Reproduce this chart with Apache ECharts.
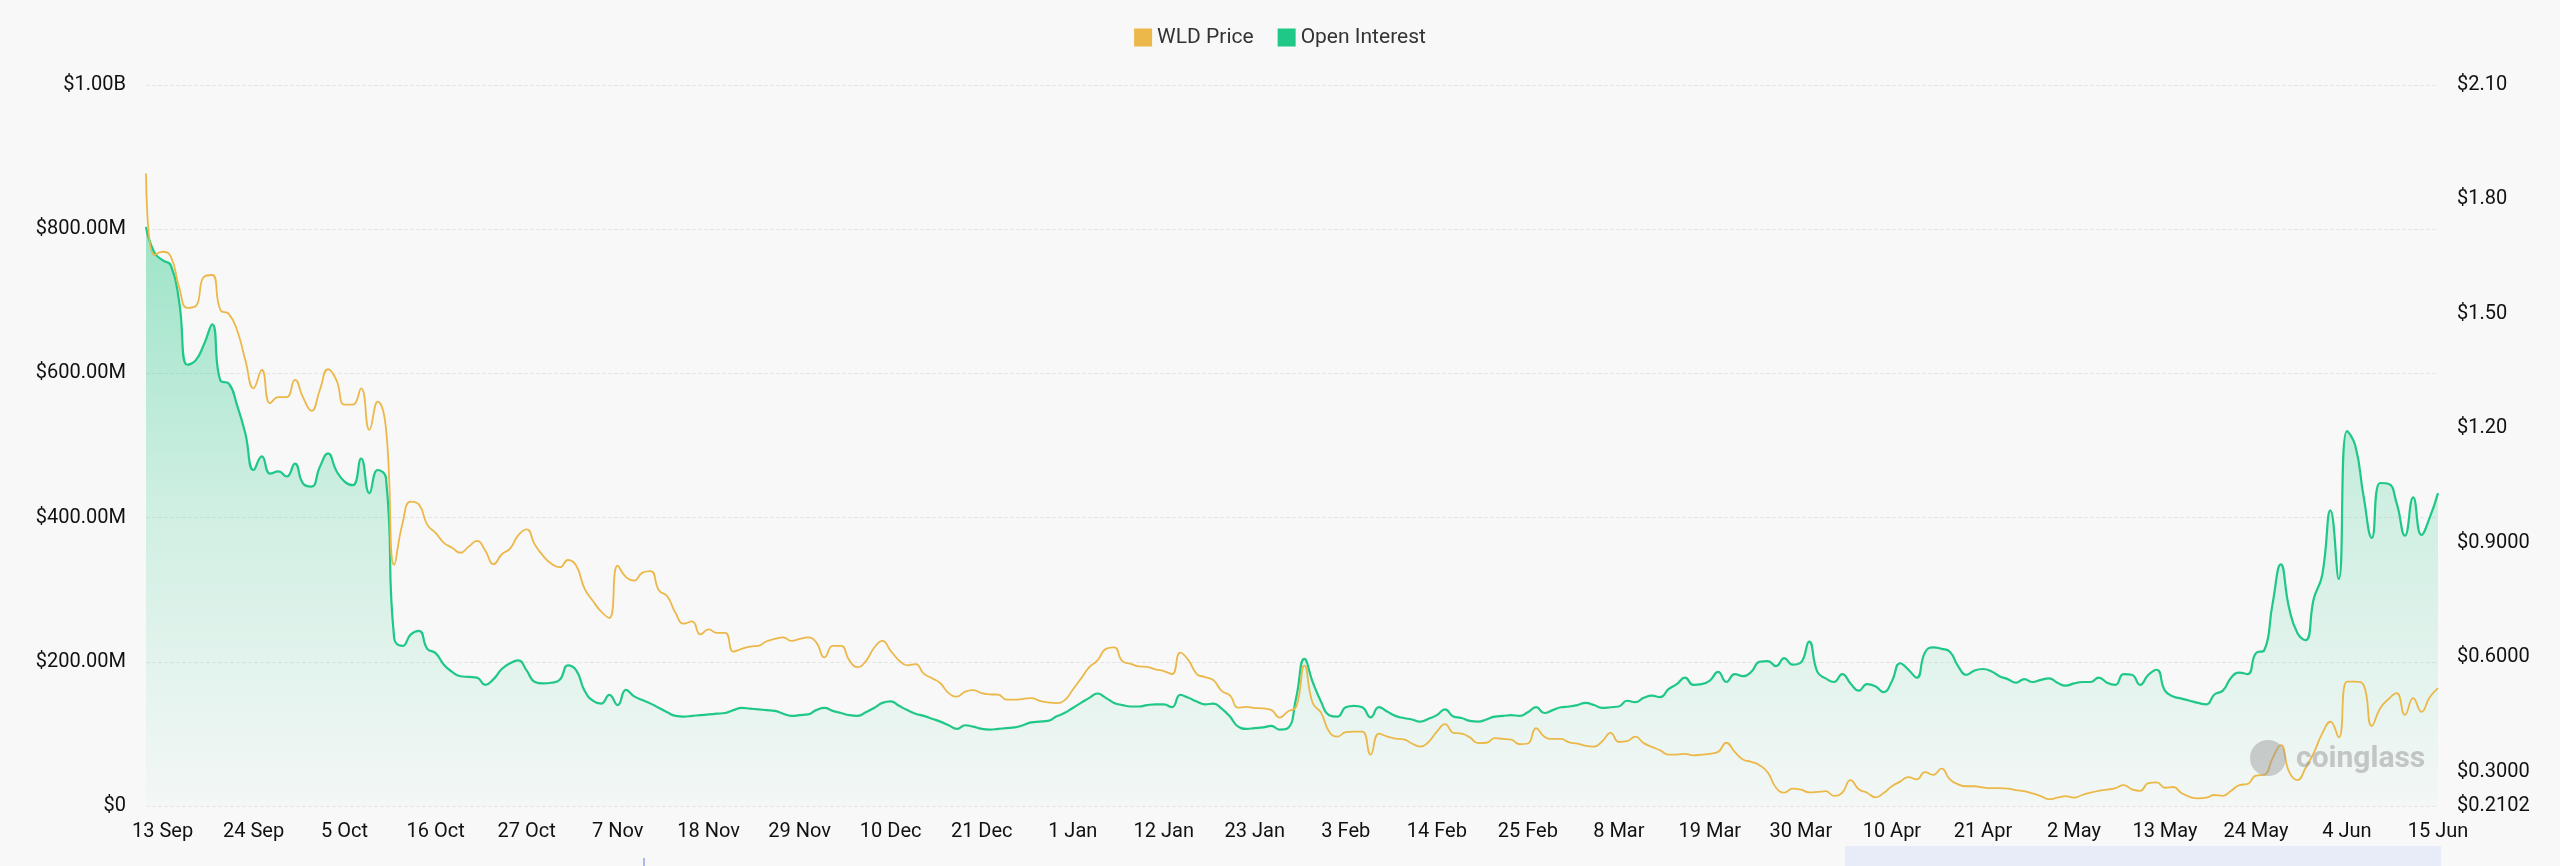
<!DOCTYPE html>
<html>
<head>
<meta charset="utf-8">
<title>WLD Open Interest</title>
<script src="https://cdn.jsdelivr.net/npm/echarts@6.0.0/dist/echarts.min.js"></script>
<style>
  html, body { margin: 0; padding: 0; background: #f8f8f8; }
  #chart { width: 2560px; height: 866px; }
</style>
</head>
<body>
<div id="chart"></div>
<script>
// daily points, 11 Sep -> 15 Jun
const startDay = Date.UTC(2025, 8, 11)
const dayCount = 278
const monthNames = ['Jan', 'Feb', 'Mar', 'Apr', 'May', 'Jun', 'Jul', 'Aug', 'Sep', 'Oct', 'Nov', 'Dec']

// open interest, millions of USD
const openInterest = [
  803, 768, 757, 750, 700, 612, 618, 640, 668, 590,
  586, 556, 517, 466, 485, 461, 464, 457, 475, 447,
  443, 470, 489, 465, 450, 445, 482, 434, 466, 455,
  232, 222, 238, 243, 218, 212, 196, 186, 180, 179,
  178, 168, 176, 190, 198, 202, 188, 172, 170, 171,
  175, 195, 188, 160, 146, 142, 154, 140, 161, 152,
  147, 142, 136, 130, 125, 124, 125, 126, 127, 128,
  129, 133, 136, 135, 134, 133, 132, 128, 125, 126,
  127, 133, 136, 132, 129, 126, 125, 130, 136, 143,
  145, 139, 133, 128, 125, 121, 117, 112, 107, 112,
  110, 107, 106, 107, 108, 109, 112, 116, 117, 118,
  124, 129, 136, 143, 150, 156, 150, 143, 140, 138,
  138, 140, 141, 141, 137, 154, 150, 145, 141, 142,
  135, 124, 110, 107, 108, 109, 111, 106, 108, 150,
  204, 172, 145, 126, 124, 137, 139, 137, 123, 137,
  131, 125, 122, 120, 117, 121, 126, 134, 124, 122,
  118, 117, 120, 124, 125, 126, 125, 130, 137, 129,
  133, 137, 138, 140, 143, 140, 136, 137, 138, 146,
  144, 150, 153, 151, 162, 169, 178, 168, 169, 174,
  186, 172, 183, 180, 186, 200, 201, 194, 205, 196,
  199, 228, 186, 177, 172, 183, 170, 160, 169, 166,
  158, 173, 198, 189, 178, 213, 220, 218, 214, 194,
  182, 188, 190, 187, 180, 176, 171, 176, 172, 175,
  177, 171, 167, 170, 172, 172, 178, 171, 168, 183,
  182, 168, 182, 189, 160, 152, 149, 146, 143, 141,
  155, 160, 178, 185, 183, 212, 216, 280, 335, 275,
  240, 230, 288, 320, 410, 315, 520, 500, 430, 372,
  448, 447, 420, 375, 428, 376, 400, 434
]

// WLD price, USD
const wldPrice = [
  1.868, 1.654, 1.663, 1.650, 1.570, 1.516, 1.520, 1.597, 1.602, 1.510,
  1.500, 1.458, 1.379, 1.305, 1.353, 1.266, 1.282, 1.282, 1.327, 1.280,
  1.246, 1.300, 1.355, 1.327, 1.262, 1.262, 1.305, 1.196, 1.270, 1.200,
  0.842, 0.951, 1.008, 1.000, 0.947, 0.926, 0.900, 0.887, 0.874, 0.890,
  0.905, 0.880, 0.844, 0.870, 0.885, 0.920, 0.935, 0.895, 0.866, 0.845,
  0.836, 0.855, 0.840, 0.780, 0.748, 0.720, 0.703, 0.840, 0.810, 0.801,
  0.822, 0.826, 0.775, 0.760, 0.716, 0.688, 0.694, 0.660, 0.673, 0.664,
  0.664, 0.615, 0.622, 0.628, 0.630, 0.642, 0.648, 0.652, 0.643, 0.648,
  0.652, 0.639, 0.600, 0.630, 0.630, 0.592, 0.574, 0.590, 0.625, 0.643,
  0.617, 0.592, 0.579, 0.582, 0.557, 0.545, 0.532, 0.506, 0.497, 0.510,
  0.514, 0.506, 0.503, 0.502, 0.489, 0.489, 0.491, 0.493, 0.486, 0.482,
  0.480, 0.487, 0.515, 0.544, 0.574, 0.592, 0.622, 0.626, 0.590, 0.583,
  0.576, 0.575, 0.568, 0.564, 0.556, 0.612, 0.592, 0.556, 0.548, 0.540,
  0.512, 0.500, 0.468, 0.470, 0.467, 0.466, 0.462, 0.442, 0.458, 0.470,
  0.578, 0.480, 0.455, 0.405, 0.392, 0.404, 0.405, 0.405, 0.345, 0.400,
  0.392, 0.387, 0.385, 0.374, 0.366, 0.378, 0.405, 0.425, 0.402, 0.400,
  0.390, 0.375, 0.376, 0.388, 0.386, 0.384, 0.372, 0.374, 0.414, 0.392,
  0.386, 0.386, 0.377, 0.374, 0.368, 0.366, 0.380, 0.402, 0.378, 0.380,
  0.392, 0.375, 0.365, 0.356, 0.345, 0.345, 0.347, 0.343, 0.345, 0.347,
  0.352, 0.376, 0.352, 0.332, 0.326, 0.317, 0.298, 0.258, 0.245, 0.256,
  0.253, 0.246, 0.247, 0.249, 0.237, 0.245, 0.278, 0.254, 0.245, 0.233,
  0.244, 0.262, 0.274, 0.286, 0.280, 0.299, 0.292, 0.308, 0.280, 0.267,
  0.262, 0.262, 0.259, 0.257, 0.257, 0.256, 0.252, 0.249, 0.243, 0.236,
  0.228, 0.232, 0.236, 0.232, 0.239, 0.245, 0.250, 0.253, 0.257, 0.265,
  0.254, 0.250, 0.270, 0.272, 0.258, 0.260, 0.244, 0.234, 0.230, 0.232,
  0.239, 0.237, 0.250, 0.265, 0.268, 0.290, 0.292, 0.335, 0.370, 0.300,
  0.278, 0.310, 0.350, 0.400, 0.431, 0.390, 0.536, 0.536, 0.528, 0.420,
  0.466, 0.490, 0.506, 0.449, 0.493, 0.457, 0.495, 0.519
]

// right axis labels
const priceTicks = [0.2102, 0.3, 0.6, 0.9, 1.2, 1.5, 1.8, 2.1]

const dates = []
for (let i = 0; i < dayCount; i++) {
  const d = new Date(startDay + i * 86400000)
  dates.push(d.getUTCDate() + ' ' + monthNames[d.getUTCMonth()])
}

const chart = echarts.init(document.getElementById('chart'))
const fontFamily = 'Roboto, "Open Sans", sans-serif'

chart.setOption({
  backgroundColor: '#f8f8f8',
  animation: false,
  textStyle: { fontFamily },
  legend: {
    top: 22,
    left: 'center',
    icon: 'rect',
    itemWidth: 18,
    itemHeight: 18,
    itemGap: 24,
    textStyle: { fontSize: 21, color: '#333' },
    data: ['WLD Price', 'Open Interest']
  },
  grid: {
    left: 146,
    right: 122,
    top: 85,
    bottom: 60
  },
  xAxis: {
    type: 'category',
    boundaryGap: false,
    data: dates,
    axisLine: { show: false },
    axisTick: { show: false },
    axisLabel: {
      interval: (idx) => (idx - 2) % 11 === 0,
      fontSize: 20,
      color: '#111',
      margin: 16
    }
  },
  yAxis: [{
    type: 'value',
    min: 0,
    max: 1000,
    interval: 200,
    axisLine: { show: false },
    axisTick: { show: false },
    splitLine: { lineStyle: { type: 'dashed', color: '#e6e6e6', width: 1 } },
    axisLabel: {
      fontSize: 20,
      color: '#111',
      margin: 20,
      formatter: (v) => {
        if (v === 0) return '$0'
        if (v >= 1000) return '$' + (v / 1000).toFixed(2) + 'B'
        return '$' + v.toFixed(2) + 'M'
      }
    }
  }, {
    type: 'value',
    position: 'right',
    min: 0.2102,
    max: 2.1,
    axisLine: { show: false },
    axisTick: { show: false, customValues: priceTicks },
    splitLine: { show: false },
    axisLabel: {
      customValues: priceTicks,
      fontSize: 20,
      color: '#111',
      margin: 19,
      formatter: (v) => v < 1 ? '$' + v.toFixed(4) : '$' + v.toFixed(2)
    }
  }],
  series: [{
    name: 'WLD Price',
    type: 'line',
    yAxisIndex: 1,
    data: wldPrice,
    smooth: true,
    showSymbol: false,
    itemStyle: { color: '#ebb849' },
    lineStyle: { color: '#ebb849', width: 1.8 },
    z: 3
  }, {
    name: 'Open Interest',
    type: 'line',
    yAxisIndex: 0,
    data: openInterest,
    smooth: true,
    showSymbol: false,
    itemStyle: { color: '#1fc886' },
    lineStyle: { color: '#1fc886', width: 2.2 },
    areaStyle: {
      color: new echarts.graphic.LinearGradient(0, 0, 0, 1, [
        { offset: 0, color: 'rgba(31,200,134,0.6)' },
        { offset: 0.5, color: 'rgba(31,200,134,0.26)' },
        { offset: 1, color: 'rgba(31,200,134,0.03)' }
      ])
    },
    z: 2
  }],
  graphic: [{
    type: 'circle',
    left: 2250,
    top: 740,
    shape: { r: 18 },
    style: { fill: 'rgba(150,150,150,0.45)' },
    z: 10
  }, {
    type: 'text',
    left: 2296,
    top: 744,
    style: {
      text: 'coinglass',
      fontSize: 30,
      fontWeight: 'bold',
      fontFamily,
      fill: 'rgba(150,150,150,0.5)'
    },
    z: 10
  }, {
    type: 'rect',
    left: 1845,
    top: 846,
    shape: { width: 596, height: 20 },
    style: { fill: '#e8ecf8' }
  }, {
    type: 'rect',
    left: 643,
    top: 858,
    shape: { width: 2, height: 8 },
    style: { fill: '#aab8ea' }
  }]
})
</script>
</body>
</html>
